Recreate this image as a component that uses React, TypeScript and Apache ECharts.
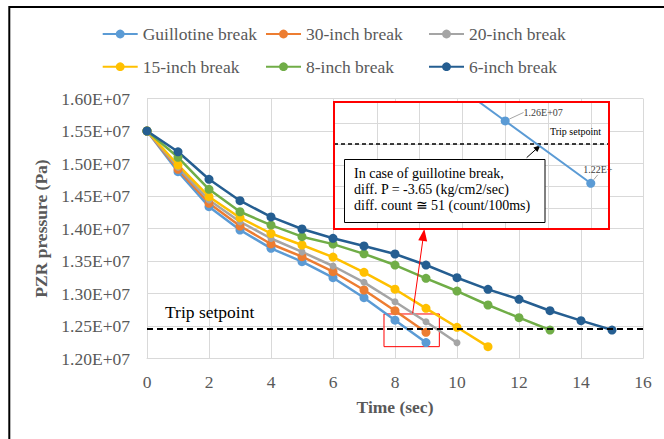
import { useEffect, useRef } from "react";
import * as echarts from "echarts";

const FONT = "'Liberation Serif', 'Times New Roman', serif";

const timeSec = [0, 1, 2, 3, 4, 5, 6, 7, 8, 9, 10, 11, 12, 13, 14, 15];
const seriesNames = ["Guillotine break", "30-inch break", "20-inch break", "15-inch break", "8-inch break", "6-inch break"];
const seriesColors = ["#5B9BD5", "#ED7D31", "#A5A5A5", "#FFC000", "#70AD47", "#255E91"];

const guillotine = [1.55e7, 1.4874e7, 1.4335e7, 1.3977e7, 1.3695e7, 1.349e7, 1.3243e7, 1.2935e7, 1.259e7, 1.2245e7];
const inch30 = [1.55e7, 1.4911e7, 1.4388e7, 1.4038e7, 1.3762e7, 1.3566e7, 1.3335e7, 1.3054e7, 1.2735e7, 1.2403e7];
const inch20 = [1.55e7, 1.4942e7, 1.4438e7, 1.4105e7, 1.3846e7, 1.364e7, 1.3423e7, 1.3172e7, 1.2874e7, 1.2566e7, 1.2243e7];
const inch15 = [1.55e7, 1.4977e7, 1.4489e7, 1.4166e7, 1.3923e7, 1.3746e7, 1.356e7, 1.3326e7, 1.3066e7, 1.2772e7, 1.248e7, 1.2182e7];
const inch8 = [1.55e7, 1.5095e7, 1.4603e7, 1.4258e7, 1.4052e7, 1.3874e7, 1.376e7, 1.361e7, 1.3438e7, 1.3234e7, 1.3038e7, 1.2823e7, 1.2628e7, 1.2438e7];
const inch6 = [1.55e7, 1.518e7, 1.4757e7, 1.4428e7, 1.4178e7, 1.3992e7, 1.3849e7, 1.3731e7, 1.3608e7, 1.3438e7, 1.3243e7, 1.3064e7, 1.2911e7, 1.2735e7, 1.2582e7, 1.2438e7];
const allSeries = [guillotine, inch30, inch20, inch15, inch8, inch6];

const tripSetpoint = 1.2465e7;

// annotation anchors (data coordinates)
const zoomRectFrom = [7.645, 1.2685e7];
const zoomRectTo = [9.43, 1.2182e7];
const redArrowFrom = [8.57, 1.2695e7];
const redArrowTo = [8.92, 1.39e7];
const insetArrowFrom = [8.251, 1.2387e7];
const insetArrowTo = [8.383, 1.2443e7];
const labelledIdx = [8, 9];

const noteLines = [
  "In case of guillotine break,",
  "diff. P = -3.65 (kg/cm2/sec)",
  "diff. count \u2245 51 (count/100ms)",
];

const fmtE = (v: number) => (v / 1e7).toFixed(2) + "E+07";

export default function App() {
  const ref = useRef<HTMLDivElement>(null);
  useEffect(() => {
    document.body.style.margin = "0";
    const chart = echarts.init(ref.current!, null, { renderer: "svg" });

    const pairs = (arr: number[]) => arr.map((v, i) => [timeSec[i], v]);

    const mainSeries: any[] = allSeries.map((arr, k) => ({
      name: seriesNames[k],
      type: "line",
      xAxisIndex: 0,
      yAxisIndex: 0,
      data: pairs(arr),
      color: seriesColors[k],
      symbol: "circle",
      symbolSize: k === 2 ? 7 : 9,
      showSymbol: true,
      lineStyle: { width: 2.5, color: seriesColors[k] },
      itemStyle: { color: seriesColors[k] },
      z: 2,
    }));

    mainSeries[0].markLine = {
      silent: true,
      symbol: ["none", "none"],
      label: { show: false },
      lineStyle: { color: "#000", type: [6, 4], width: 2 },
      data: [{ yAxis: tripSetpoint }],
    };
    mainSeries[0].markArea = {
      silent: true,
      itemStyle: { color: "rgba(0,0,0,0)", borderColor: "#FF0000", borderWidth: 1 },
      data: [[{ coord: zoomRectFrom }, { coord: zoomRectTo }]],
    };
    mainSeries[1].markLine = {
      silent: true,
      symbol: ["none", "triangle"],
      symbolSize: [9, 12],
      label: { show: false },
      lineStyle: { color: "#FF0000", type: "solid", width: 1 },
      data: [[{ coord: redArrowFrom }, { coord: redArrowTo }]],
    };

    const insetData = pairs(guillotine).map((p, i) => {
      if (labelledIdx.indexOf(i) < 0) return { value: p };
      const last = i === labelledIdx[1];
      return {
        value: p,
        label: {
          show: true,
          position: "top",
          formatter: (prm: any) => fmtE(prm.value[1]),
          fontFamily: FONT,
          fontSize: 10,
          color: "#404040",
          ...(last ? { width: 33, overflow: "truncate", ellipsis: "" } : {}),
        },
      };
    });

    const insetSeries = {
      name: "Guillotine break (detail)",
      type: "line",
      xAxisIndex: 1,
      yAxisIndex: 1,
      data: insetData,
      color: seriesColors[0],
      symbol: "circle",
      symbolSize: 9,
      lineStyle: { width: 2, color: seriesColors[0] },
      itemStyle: { color: seriesColors[0] },
      clip: true,
      z: 5,
      labelLayout: (prm: any) =>
        prm.dataIndex === labelledIdx[0] ? { dx: 38, dy: 6 } : { dx: 7, dy: 1 },
      labelLine: { show: true, lineStyle: { color: "#a6a6a6", width: 1 } },
      markLine: {
        silent: true,
        symbol: ["none", "none"],
        label: { show: false },
        data: [
          { yAxis: tripSetpoint, lineStyle: { color: "#000", type: [4, 3], width: 1.5 } },
          [
            { coord: insetArrowFrom, lineStyle: { color: "#000", type: "solid", width: 1 } },
            { coord: insetArrowTo, symbol: "triangle", symbolSize: [6, 7] },
          ],
        ],
      },
    };

    const axisLabelStyle = { color: "#595959", fontSize: 17.5, fontFamily: FONT };
    const nameStyle = { color: "#595959", fontSize: 17.5, fontFamily: FONT, fontWeight: "bold" };
    const gridLine = { lineStyle: { color: "#d9d9d9", width: 1 } };

    const legendCommon = {
      orient: "vertical",
      top: 24,
      itemGap: 12.7,
      itemWidth: 35,
      itemHeight: 11,
      padding: 0,
      textStyle: { color: "#595959", fontSize: 17.5, fontFamily: FONT, lineHeight: 20 },
    };

    const option: any = {
      animation: false,
      backgroundColor: "#fff",
      legend: [
        { ...legendCommon, left: 101.7, data: [seriesNames[0], seriesNames[3]] },
        { ...legendCommon, left: 265, data: [seriesNames[1], seriesNames[4]] },
        { ...legendCommon, left: 428, data: [seriesNames[2], seriesNames[5]] },
      ],
      grid: [
        { left: 147, top: 98.5, width: 496, height: 260 },
        { left: 334, top: 102, width: 275, height: 127 },
      ],
      xAxis: [
        {
          type: "value",
          gridIndex: 0,
          min: 0,
          max: 16,
          interval: 2,
          axisLine: { show: true, lineStyle: { color: "#d9d9d9" } },
          axisTick: { show: false },
          splitLine: gridLine,
          axisLabel: { ...axisLabelStyle, margin: 14 },
          name: "Time (sec)",
          nameLocation: "middle",
          nameGap: 39,
          nameTextStyle: nameStyle,
        },
        {
          type: "value",
          gridIndex: 1,
          min: 6,
          max: 9.213,
          interval: 0.5,
          axisLine: { show: false },
          axisTick: { show: false },
          axisLabel: { show: false },
          splitLine: gridLine,
          z: 4,
        },
      ],
      yAxis: [
        {
          type: "value",
          gridIndex: 0,
          min: 1.2e7,
          max: 1.6e7,
          interval: 5e5,
          axisLine: { show: true, lineStyle: { color: "#d9d9d9" } },
          axisTick: { show: false },
          splitLine: gridLine,
          axisLabel: { ...axisLabelStyle, margin: 17, formatter: (v: number) => fmtE(v) },
          name: "PZR pressure (Pa)",
          nameLocation: "middle",
          nameGap: 92,
          nameTextStyle: nameStyle,
        },
        {
          type: "value",
          gridIndex: 1,
          min: 1.1992e7,
          max: 1.2695e7,
          interval: 1.17e5,
          axisLine: { show: false },
          axisTick: { show: false },
          axisLabel: { show: false },
          splitLine: gridLine,
          z: 4,
        },
      ],
      graphic: [
        {
          type: "rect",
          z: 0,
          shape: { x: 9.3, y: 7, width: 720, height: 520 },
          style: { fill: "none", stroke: "#000", lineWidth: 2 },
        },
        {
          type: "text",
          z: 3,
          x: 165,
          y: 312,
          style: { text: "Trip setpoint", fontSize: 17.5, fontFamily: FONT, fill: "#000", verticalAlign: "middle" },
        },
        {
          type: "rect",
          z: 3,
          shape: { x: 334, y: 102, width: 275, height: 127 },
          style: { fill: "#fff" },
        },
        {
          type: "rect",
          z: 6,
          shape: { x: 334, y: 102, width: 275, height: 127 },
          style: { fill: "none", stroke: "#FF0000", lineWidth: 2 },
        },
        {
          type: "text",
          z: 8,
          x: 550,
          y: 131.7,
          style: { text: "Trip setpoint", fontSize: 10, fontFamily: FONT, fill: "#000", verticalAlign: "middle" },
        },
        {
          type: "rect",
          z: 7,
          shape: { x: 344.5, y: 159.5, width: 200.5, height: 63 },
          style: { fill: "#fff", stroke: "#000", lineWidth: 1 },
        },
        {
          type: "text",
          z: 8,
          x: 354,
          y: 165,
          style: {
            text: noteLines.join("\n"),
            fontSize: 14,
            lineHeight: 16,
            fontFamily: FONT,
            fill: "#000",
            verticalAlign: "top",
          },
        },
      ],
      series: [...mainSeries, insetSeries],
    };

    chart.setOption(option);
    return () => chart.dispose();
  }, []);
  return <div ref={ref} style={{ width: 664, height: 439, background: "#fff" }} />;
}
